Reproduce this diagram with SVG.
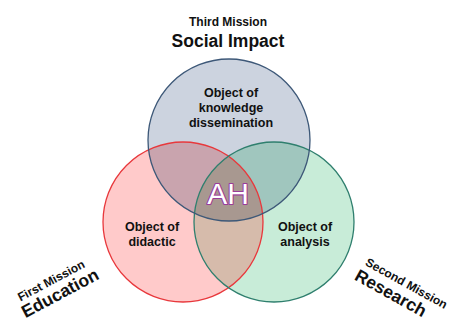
<svg xmlns="http://www.w3.org/2000/svg" width="450" height="321" viewBox="0 0 450 321">
  <style>
    .lbl { font-family: "Liberation Sans", Arial, sans-serif; font-weight: bold; fill: #111; text-anchor: middle; }
    .obj { font-size: 12.5px; }
    .sub { font-size: 12px; }
    .main { font-size: 17.5px; }
    .ring { fill: none; stroke-width: 1.3; }
  </style>
  <defs>
    <clipPath id="clipTop"><circle cx="229" cy="140" r="81"/></clipPath>
    <clipPath id="clipRed"><circle cx="183" cy="222" r="80"/></clipPath>
    <clipPath id="clipGreen"><circle cx="274" cy="222" r="80"/></clipPath>
  </defs>
  <rect width="450" height="321" fill="#ffffff"/>

  <!-- circle fills -->
  <g id="research">
    <circle cx="274" cy="222" r="80" fill="#c8ecd8"/>
  </g>
  <g id="education">
    <circle cx="183" cy="222" r="80" fill="#ffcaca"/>
  </g>
  <g id="social-impact">
    <circle cx="229" cy="140" r="81" fill="#ccd3df"/>
  </g>

  <!-- overlap areas -->
  <g id="overlaps">
    <g clip-path="url(#clipTop)">
      <circle cx="183" cy="222" r="80" fill="#c9a4ae"/>
      <circle cx="274" cy="222" r="80" fill="#a0c6be"/>
    </g>
    <g clip-path="url(#clipRed)">
      <circle cx="274" cy="222" r="80" fill="#d6bbab"/>
    </g>
    <g clip-path="url(#clipRed)">
      <g clip-path="url(#clipGreen)">
        <circle cx="229" cy="140" r="81" fill="#a89890"/>
      </g>
    </g>
  </g>

  <!-- outlines -->
  <g id="outlines">
    <circle class="ring" cx="183" cy="222" r="80" stroke="#e8383c"/>
    <circle class="ring" cx="274" cy="222" r="80" stroke="#2f7f6e"/>
    <circle class="ring" cx="229" cy="140" r="81" stroke="#3d5878"/>
  </g>

  <!-- circle labels -->
  <g id="labels">
    <text class="lbl obj" x="231" y="97">Object of</text>
    <text class="lbl obj" x="231" y="112">knowledge</text>
    <text class="lbl obj" x="231" y="127">dissemination</text>
    <text class="lbl obj" x="152" y="231">Object of</text>
    <text class="lbl obj" x="152" y="246">didactic</text>
    <text class="lbl obj" x="305" y="231">Object of</text>
    <text class="lbl obj" x="305" y="246">analysis</text>
  </g>

  <g id="center">
    <text x="228" y="204" font-family="Liberation Sans, Arial, sans-serif" font-size="30" text-anchor="middle" fill="#ffffff" stroke="#9a3c9a" stroke-width="2.2" stroke-linejoin="round" paint-order="stroke">AH</text>
  </g>

  <!-- mission titles -->
  <g id="third-mission">
    <text class="lbl sub" x="228" y="26">Third Mission</text>
    <text class="lbl main" x="228" y="47">Social Impact</text>
  </g>
  <g id="first-mission" transform="translate(54,286) rotate(-28)">
    <text class="lbl sub" x="0" y="-2">First Mission</text>
    <text class="lbl main" x="2" y="15">Education</text>
  </g>
  <g id="second-mission" transform="translate(400,289) rotate(29)">
    <text class="lbl sub" x="3" y="-4">Second Mission</text>
    <text class="lbl main" x="-6" y="14">Research</text>
  </g>
</svg>
